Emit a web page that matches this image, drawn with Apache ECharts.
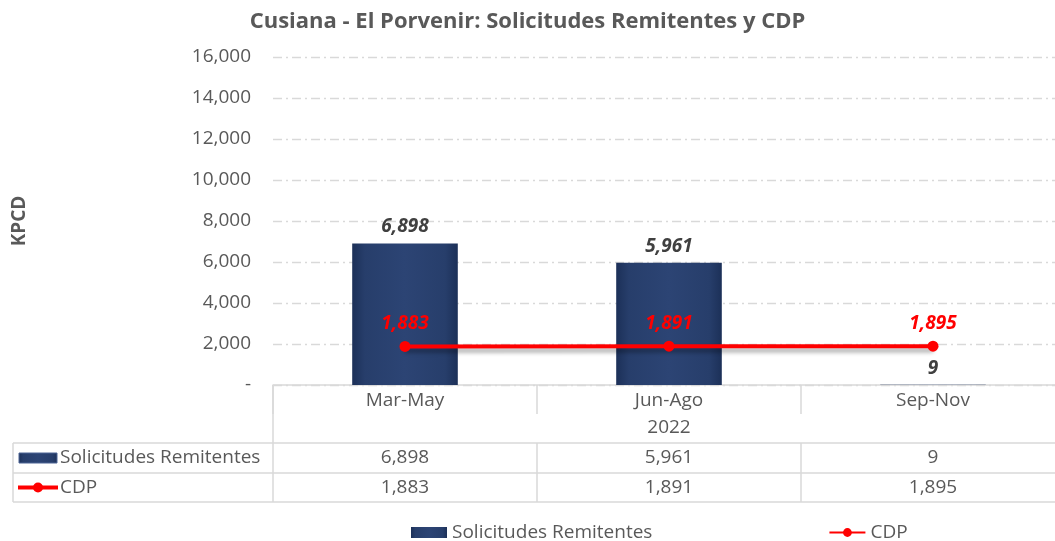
<!DOCTYPE html>
<html><head><meta charset="utf-8">
<script src="https://cdn.jsdelivr.net/npm/echarts@6/dist/echarts.min.js"></script>
<style>html,body{margin:0;padding:0;background:#fff}#c{width:1055px;height:541px}</style>
</head><body><div id="c"></div>
<script>
const title = 'Cusiana - El Porvenir: Solicitudes Remitentes y CDP';
const categories = ['Mar-May', 'Jun-Ago', 'Sep-Nov'];
const yearLabel = '2022';
const solicitudes = [6898, 5961, 9];
const cdp = [1883, 1891, 1895];
const seriesNames = ['Solicitudes Remitentes', 'CDP'];
const yTicks = [0, 2000, 4000, 6000, 8000, 10000, 12000, 14000, 16000];
const yName = 'KPCD';

const FONT = '"Open Sans", Lato, sans-serif';
const fmt = v => v.toLocaleString('en-US');
const GRID = {left: 273, top: 57, width: 792, height: 328, outerBoundsMode: 'none', containLabel: false};
const LINE = '#d9d9d9';
const TXT = '#595959';
const FS = 19;

const barColor = {
  type: 'linear', x: 0, y: 0, x2: 1, y2: 0,
  colorStops: [
    {offset: 0, color: '#1c3058'},
    {offset: 0.12, color: '#273e6b'},
    {offset: 0.5, color: '#2c4474'},
    {offset: 0.88, color: '#273e6b'},
    {offset: 1, color: '#1c3058'}
  ]
};

const chart = echarts.init(document.getElementById('c'), null, {renderer: 'canvas'});
chart.setOption({
  animation: false,
  textStyle: {fontFamily: FONT},
  title: {
    text: title, left: 'center', top: 6,
    textStyle: {fontFamily: FONT, fontSize: 22, fontWeight: 'bold', color: TXT}
  },
  legend: {
    left: 406, top: 518, itemGap: 176, itemWidth: 36, itemHeight: 11,
    textStyle: {fontFamily: FONT, fontSize: FS, color: TXT},
    data: [
      {name: seriesNames[0], icon: 'rect'},
      {name: seriesNames[1]}
    ]
  },
  grid: GRID,
  xAxis: {
    type: 'category', data: categories,
    axisLine: {show: true, lineStyle: {color: LINE, width: 1.5}},
    axisTick: {show: true, length: 29, lineStyle: {color: LINE, width: 1.5}},
    axisLabel: {margin: 6, fontSize: FS, color: TXT, fontFamily: FONT}
  },
  yAxis: {
    type: 'value', min: yTicks[0], max: yTicks[yTicks.length - 1], interval: 2000,
    name: yName, nameLocation: 'middle', nameRotate: 90, nameGap: 244,
    nameTextStyle: {fontFamily: FONT, fontSize: FS, fontWeight: 'bold', color: TXT},
    axisLine: {show: false}, axisTick: {show: false},
    axisLabel: {margin: 22, fontSize: FS, color: TXT, fontFamily: FONT,
      formatter: v => v === 0 ? '-' : fmt(v)},
    splitLine: {show: true, lineStyle: {color: LINE, width: 1.3, type: [9, 4, 2, 4]}}
  },
  series: [
    {
      name: seriesNames[0], type: 'bar', data: solicitudes, barWidth: '40%',
      itemStyle: {color: barColor, borderColor: '#4d6495', borderWidth: 0},
      label: {show: true, position: 'top', distance: 7, formatter: p => fmt(p.value),
        fontFamily: FONT, fontSize: FS, fontWeight: 'bold', fontStyle: 'italic', color: '#404040'}
    },
    {
      name: seriesNames[1], type: 'line', data: cdp, symbol: 'circle', symbolSize: 11,
      z: 5,
      lineStyle: {color: '#ff0000', width: 4, shadowColor: 'rgba(0,0,0,0.35)', shadowBlur: 4, shadowOffsetY: 4},
      itemStyle: {color: '#ff0000'},
      label: {show: true, position: 'top', distance: 8, formatter: p => fmt(p.value),
        fontFamily: FONT, fontSize: FS, fontWeight: 'bold', fontStyle: 'italic', color: '#ff0000'}
    }
  ]
});

// Data table built from the same arrays, positioned via the chart's own scale
function buildTable() {
  const xs = categories.map(c => chart.convertToPixel({xAxisIndex: 0}, c));
  const step = xs.length > 1 ? xs[1] - xs[0] : 264;
  const y0 = chart.convertToPixel({yAxisIndex: 0}, 0) + 2;
  const tableLeft = 13, gridLeft = xs[0] - step / 2, right = 1055;
  const rowTop = [y0 + 56, y0 + 86, y0 + 115];
  const g = [];
  const line = (x1, y1, x2, y2) => g.push({type: 'line', shape: {x1, y1, x2, y2},
    style: {stroke: LINE, lineWidth: 1.5}, silent: true});
  rowTop.forEach(y => line(tableLeft, y, right, y));
  line(tableLeft, rowTop[0], tableLeft, rowTop[2]);
  line(gridLeft, y0 - 2, gridLeft, rowTop[2]);
  xs.forEach(x => line(x + step / 2, rowTop[0], x + step / 2, rowTop[2]));
  g.push({type: 'text', x: xs[Math.floor(xs.length / 2)], y: y0 + 41,
    style: {text: yearLabel, fill: TXT, font: FS + 'px ' + FONT, align: 'center', verticalAlign: 'middle'}});
  const rows = [solicitudes, cdp];
  rows.forEach((vals, r) => {
    const cy = (rowTop[r] + rowTop[r + 1]) / 2;
    vals.forEach((v, i) => g.push({type: 'text', x: xs[i], y: cy,
      style: {text: fmt(v), fill: TXT, font: FS + 'px ' + FONT, align: 'center', verticalAlign: 'middle'}}));
    g.push({type: 'text', x: tableLeft + 47, y: cy,
      style: {text: seriesNames[r], fill: TXT, font: FS + 'px ' + FONT, align: 'left', verticalAlign: 'middle'}});
  });
  const cy0 = (rowTop[0] + rowTop[1]) / 2, cy1 = (rowTop[1] + rowTop[2]) / 2;
  g.push({type: 'rect', shape: {x: tableLeft + 6, y: cy0 - 5, width: 38, height: 10},
    style: {fill: barColor, stroke: '#4d6495', lineWidth: 1}});
  g.push({type: 'line', shape: {x1: tableLeft + 5, y1: cy1, x2: tableLeft + 45, y2: cy1},
    style: {stroke: '#ff0000', lineWidth: 4}});
  g.push({type: 'circle', shape: {cx: tableLeft + 25, cy: cy1, r: 5}, style: {fill: '#ff0000'}});
  chart.setOption({graphic: g});
}
buildTable();
</script></body></html>
